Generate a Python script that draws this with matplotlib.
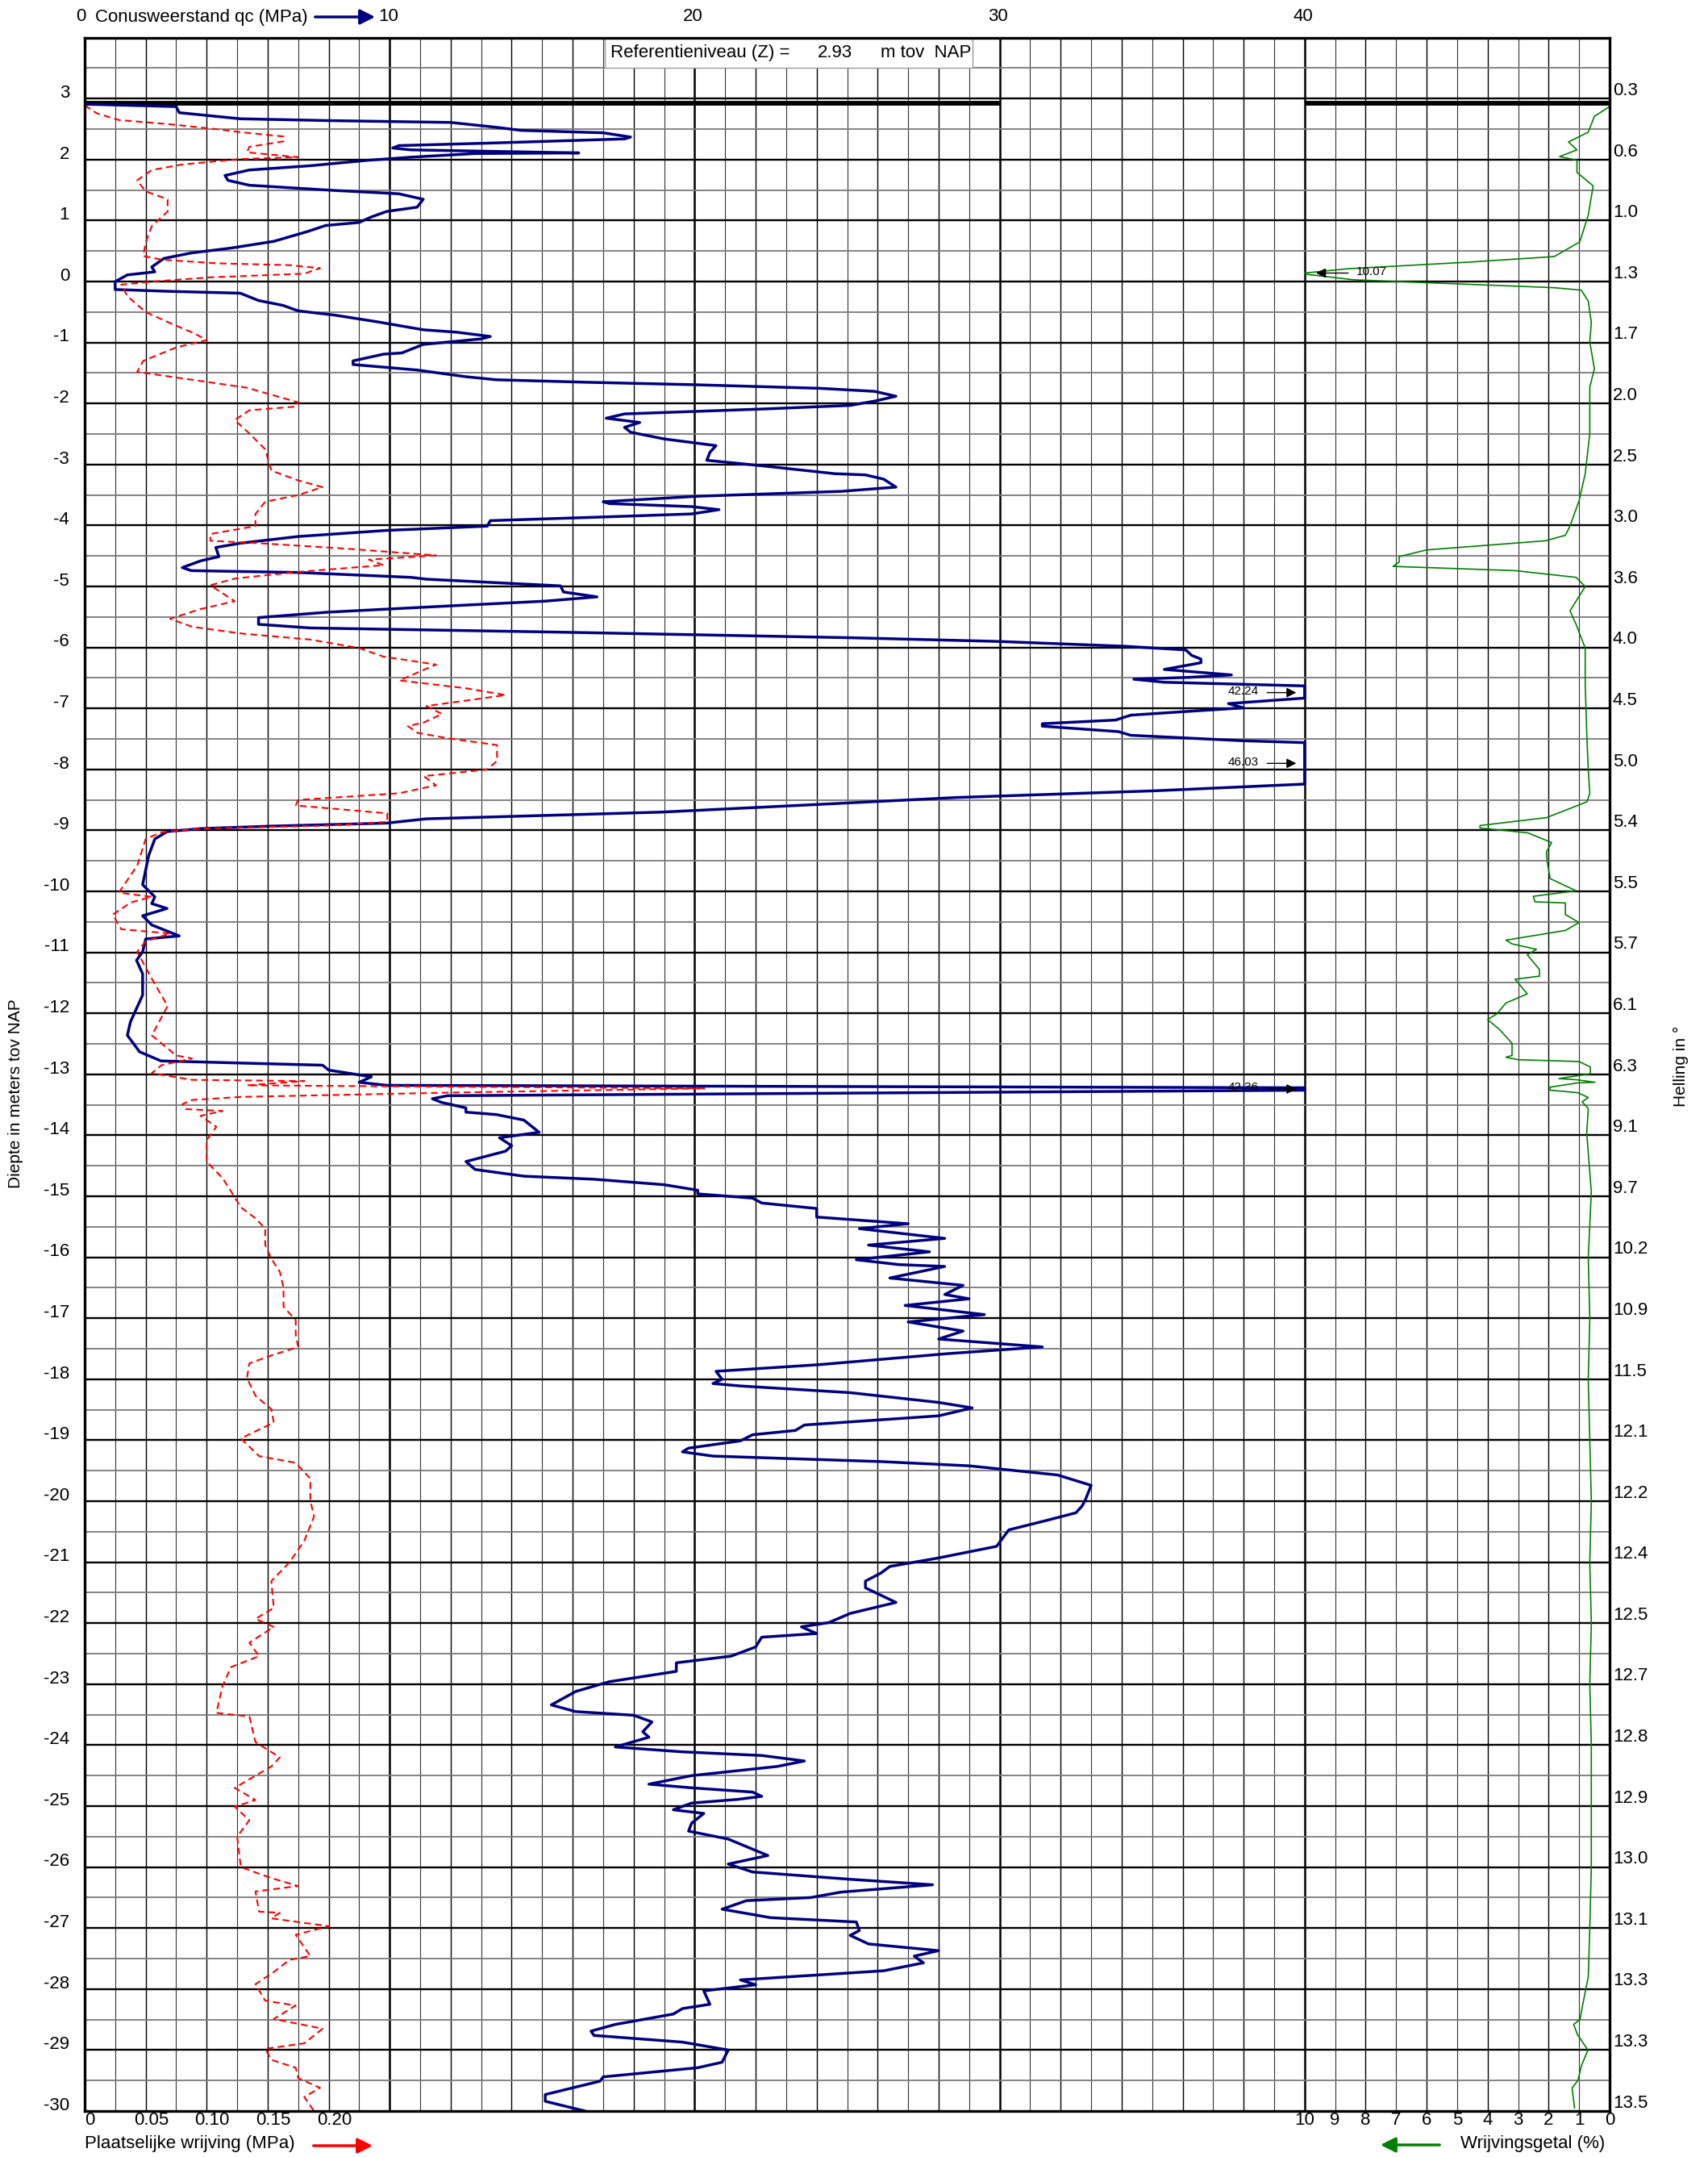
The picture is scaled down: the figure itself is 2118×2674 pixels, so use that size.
import numpy as np
import matplotlib
matplotlib.use('Agg')
import matplotlib.pyplot as plt
from matplotlib.patches import Rectangle

# Sondeergrafiek: conusweerstand, plaatselijke wrijving en wrijvingsgetal
plt.rcParams['font.family'] = ['Liberation Sans', 'DejaVu Sans']

# --- data ---
# conusweerstand qc (MPa), values above 40 are drawn at 40 with a label
QC_DEPTH = [2.91, 2.87, 2.77, 2.67, 2.64, 2.61, 2.53, 2.48, 2.44, 2.37, 2.34, 2.27, 2.23, 2.19, 2.16,
            2.11, 2.10, 2.04, 1.99, 1.90, 1.83, 1.74, 1.66, 1.58, 1.50, 1.44, 1.35, 1.22, 1.15, 1.06,
            0.97, 0.92, 0.82, 0.66, 0.55, 0.47, 0.38, 0.24, 0.16, 0.11, 0.00, -0.13, -0.16, -0.19,
            -0.31, -0.39, -0.48, -0.55, -0.66, -0.79, -0.83, -0.90, -0.94, -1.03, -1.17, -1.19, -1.30,
            -1.36, -1.45, -1.56, -1.61, -1.65, -1.69, -1.75, -1.80, -1.88, -1.96, -2.03, -2.09, -2.17,
            -2.24, -2.31, -2.39, -2.47, -2.58, -2.69, -2.80, -2.93, -3.02, -3.15, -3.17, -3.24, -3.37,
            -3.44, -3.52, -3.61, -3.64, -3.69, -3.74, -3.81, -3.86, -3.92, -4.01, -4.08, -4.18, -4.29,
            -4.36, -4.51, -4.58, -4.69, -4.74, -4.77, -4.85, -4.88, -4.99, -5.09, -5.17, -5.24, -5.32,
            -5.42, -5.51, -5.62, -5.68, -5.75, -5.84, -5.90, -5.98, -6.04, -6.13, -6.19, -6.25, -6.36,
            -6.45, -6.49, -6.52, -6.57, -6.63, -6.83, -6.92, -6.99, -7.05, -7.11, -7.19, -7.25, -7.29,
            -7.38, -7.44, -7.53, -7.56, -8.24, -8.35, -8.46, -8.58, -8.70, -8.81, -8.88, -8.93, -8.97,
            -9.02, -9.14, -9.41, -9.89, -10.09, -10.20, -10.28, -10.40, -10.55, -10.73, -10.78, -10.99,
            -11.13, -11.35, -11.70, -12.14, -12.36, -12.63, -12.78, -12.85, -12.93, -13.04, -13.13,
            -13.18, -13.22, -13.26, -13.35, -13.40, -13.46, -13.55, -13.62, -13.66, -13.75, -13.95,
            -14.04, -14.17, -14.26, -14.43, -14.56, -14.67, -14.72, -14.81, -14.90, -14.96, -15.03,
            -15.11, -15.20, -15.34, -15.45, -15.53, -15.69, -15.80, -15.91, -16.04, -16.12, -16.15,
            -16.34, -16.46, -16.61, -16.68, -16.79, -16.94, -17.06, -17.21, -17.34, -17.47, -17.58,
            -17.76, -17.87, -18.00, -18.07, -18.11, -18.22, -18.38, -18.47, -18.60, -18.75, -18.84,
            -18.91, -19.01, -19.13, -19.19, -19.26, -19.35, -19.42, -19.57, -19.74, -19.99, -20.08,
            -20.19, -20.32, -20.47, -20.74, -20.93, -21.07, -21.18, -21.31, -21.42, -21.66, -21.84,
            -21.99, -22.06, -22.17, -22.23, -22.39, -22.54, -22.65, -22.79, -22.96, -23.12, -23.34,
            -23.45, -23.51, -23.62, -23.78, -23.87, -24.03, -24.11, -24.17, -24.26, -24.35, -24.50,
            -24.64, -24.70, -24.77, -24.84, -24.89, -24.95, -25.06, -25.12, -25.28, -25.41, -25.54,
            -25.81, -25.95, -26.08, -26.20, -26.29, -26.41, -26.50, -26.55, -26.69, -26.83, -26.90,
            -27.04, -27.12, -27.26, -27.37, -27.46, -27.57, -27.70, -27.85, -27.93, -28.03, -28.25,
            -28.32, -28.41, -28.58, -28.69, -28.76, -28.87, -29.00, -29.20, -29.29, -29.44, -29.51,
            -29.73, -29.84, -30.00]
QC_MPA = [0.0, 3.0, 3.1, 5.1, 8.0, 12.0, 13.5, 14.3, 17.0, 17.9, 17.7, 13.2, 10.3, 10.1, 10.7,
          16.2, 12.8, 10.7, 9.3, 7.4, 5.4, 4.6, 4.7, 5.4, 8.0, 10.3, 11.1, 10.9, 9.9, 9.4,
          9.0, 7.9, 7.3, 6.2, 4.8, 3.5, 2.6, 2.2, 2.3, 1.4, 1.0, 1.0, 2.8, 5.1,
          5.7, 6.5, 7.0, 8.2, 9.6, 11.1, 12.2, 13.3, 13.0, 11.1, 10.4, 9.8, 8.8,
          8.8, 10.9, 12.5, 13.5, 16.4, 19.9, 24.1, 25.9, 26.6, 25.9, 25.1, 22.2, 17.7,
          17.1, 18.2, 17.7, 17.9, 19.0, 20.7, 20.5, 20.4, 22.2, 24.6, 25.6, 26.2, 26.6,
          24.8, 20.1, 17.0, 17.2, 19.9, 20.8, 19.9, 17.0, 13.3, 13.2, 9.9, 7.0, 5.1,
          4.3, 4.4, 3.8, 3.2, 3.5, 7.0, 10.7, 11.2, 15.6, 15.7, 16.8, 15.1, 11.9,
          8.0, 5.7, 5.7, 7.4, 15.7, 25.1, 29.9, 34.1, 36.1, 36.3, 36.6, 36.6, 35.4,
          37.6, 36.2, 34.4, 35.4, 40.0, 40.0, 37.5, 38.0, 36.1, 34.3, 33.8, 31.4, 31.4,
          33.9, 34.3, 38.0, 40.0, 40.0, 35.1, 28.6, 23.8, 18.9, 11.2, 9.9, 6.1, 3.8,
          2.7, 2.3, 2.1, 1.9, 2.3, 2.2, 2.7, 1.9, 2.2, 3.1, 2.0, 1.9,
          1.7, 1.9, 1.9, 1.5, 1.4, 1.8, 2.5, 7.8, 8.0, 9.4, 9.0,
          9.9, 40.0, 40.0, 11.9, 11.4, 11.7, 12.5, 12.5, 13.5, 14.4, 14.9,
          13.6, 14.0, 13.8, 12.5, 12.8, 14.4, 16.7, 19.0, 20.1, 20.1, 21.9,
          22.2, 24.0, 24.0, 27.0, 25.4, 28.2, 25.7, 27.7, 25.3, 26.7, 28.2,
          26.4, 28.8, 28.2, 29.0, 26.9, 29.5, 27.0, 28.8, 28.0, 31.4, 28.3,
          24.1, 20.7, 20.9, 20.6, 21.5, 25.1, 28.0, 29.1, 28.0, 23.6, 23.3,
          21.9, 21.5, 19.8, 19.6, 20.6, 26.1, 29.0, 31.9, 33.0, 32.8, 32.7,
          32.5, 31.5, 30.3, 29.9, 28.0, 26.4, 26.1, 25.6, 25.6, 26.6, 25.1,
          24.4, 23.5, 24.0, 22.2, 22.0, 21.2, 19.4, 19.4, 17.2, 16.1, 15.3,
          16.1, 18.0, 18.6, 18.3, 18.5, 17.4, 19.6, 22.2, 23.6, 22.7, 19.9,
          18.5, 19.9, 21.9, 22.2, 21.4, 19.9, 19.3, 20.3, 19.9, 19.8, 21.1,
          22.4, 21.1, 21.9, 25.1, 27.8, 24.8, 23.8, 21.7, 20.9, 22.5, 25.3,
          25.4, 25.1, 25.7, 28.0, 27.2, 27.5, 26.2, 21.5, 22.0, 20.3, 20.5,
          19.6, 19.3, 17.4, 16.6, 16.7, 19.6, 21.1, 20.9, 20.1, 17.0, 16.9,
          15.1, 15.1, 16.4]
QC_OVER = ["42.24", "46.03", "42.36"]
QC_OVER_DEPTH = [-6.74, -7.90, -13.24]

# plaatselijke wrijving fs (MPa)
FS_DEPTH = [2.89, 2.76, 2.65, 2.58, 2.50, 2.45, 2.38, 2.30, 2.21, 2.12, 2.04, 2.01, 1.92, 1.83, 1.66,
            1.48, 1.35, 1.15, 0.91, 0.64, 0.42, 0.36, 0.30, 0.27, 0.22, 0.13, 0.07, 0.00, -0.05,
            -0.24, -0.50, -0.68, -0.85, -0.96, -1.08, -1.30, -1.48, -1.61, -1.74, -1.98, -2.05,
            -2.11, -2.27, -2.49, -2.75, -3.10, -3.26, -3.37, -3.50, -3.61, -3.81, -4.01, -4.14,
            -4.25, -4.29, -4.38, -4.49, -4.56, -4.65, -4.76, -4.87, -4.98, -5.24, -5.37, -5.53,
            -5.66, -5.77, -5.87, -6.01, -6.15, -6.28, -6.41, -6.54, -6.67, -6.78, -6.87, -6.96,
            -7.09, -7.23, -7.29, -7.40, -7.49, -7.60, -7.86, -8.00, -8.11, -8.26, -8.39, -8.50,
            -8.59, -8.72, -8.86, -8.92, -8.97, -9.03, -9.14, -9.58, -10.02, -10.09, -10.18, -10.38,
            -10.62, -10.69, -10.82, -10.99, -11.43, -11.88, -12.36, -12.69, -12.74, -12.85, -12.98,
            -13.09, -13.11, -13.18, -13.23, -13.30, -13.37, -13.42, -13.49, -13.57, -13.60, -13.68,
            -13.86, -14.08, -14.43, -14.70, -14.92, -15.18, -15.36, -15.53, -15.80, -16.02, -16.24,
            -16.50, -16.81, -17.03, -17.27, -17.47, -17.61, -17.74, -17.98, -18.27, -18.49, -18.71,
            -18.97, -19.26, -19.37, -19.63, -19.99, -20.25, -20.65, -21.00, -21.31, -21.75, -21.93,
            -22.06, -22.32, -22.54, -22.72, -23.03, -23.47, -23.53, -23.95, -24.20, -24.35, -24.70,
            -24.90, -25.01, -25.23, -25.50, -26.00, -26.18, -26.31, -26.40, -26.73, -26.75, -26.84,
            -26.97, -27.11, -27.46, -27.52, -27.72, -27.92, -28.19, -28.27, -28.49, -28.65, -28.89,
            -28.98, -29.16, -29.29, -29.46, -29.62, -29.77, -30.00]
FS_MPA = [0.000, 0.010, 0.028, 0.070, 0.108, 0.128, 0.163, 0.163, 0.135, 0.133, 0.175, 0.128, 0.080,
          0.055, 0.043, 0.050, 0.068, 0.068, 0.055, 0.050, 0.048, 0.063, 0.108, 0.168, 0.193, 0.180,
          0.103, 0.055, 0.030, 0.035, 0.050, 0.070, 0.090, 0.100, 0.075, 0.048, 0.043, 0.088, 0.133,
          0.175, 0.173, 0.135, 0.123, 0.135, 0.148, 0.153, 0.175, 0.195, 0.175, 0.148, 0.140, 0.140,
          0.103, 0.103, 0.143, 0.215, 0.288, 0.233, 0.245, 0.175, 0.123, 0.103, 0.123, 0.095, 0.070,
          0.088, 0.128, 0.185, 0.225, 0.245, 0.288, 0.273, 0.258, 0.313, 0.345, 0.313, 0.280, 0.293,
          0.278, 0.265, 0.273, 0.298, 0.338, 0.338, 0.330, 0.278, 0.288, 0.258, 0.175, 0.173, 0.248,
          0.248, 0.200, 0.095, 0.063, 0.050, 0.043, 0.028, 0.055, 0.038, 0.023, 0.030, 0.070, 0.050,
          0.043, 0.055, 0.068, 0.055, 0.075, 0.088, 0.063, 0.055, 0.088, 0.180, 0.133, 0.508, 0.298,
          0.128, 0.088, 0.080, 0.083, 0.113, 0.095, 0.108, 0.100, 0.100, 0.113, 0.120, 0.128, 0.140,
          0.148, 0.148, 0.153, 0.160, 0.163, 0.163, 0.173, 0.173, 0.175, 0.153, 0.135, 0.133, 0.140,
          0.153, 0.155, 0.128, 0.143, 0.173, 0.185, 0.185, 0.188, 0.180, 0.168, 0.153, 0.155, 0.140,
          0.155, 0.135, 0.143, 0.120, 0.113, 0.108, 0.135, 0.140, 0.160, 0.153, 0.123, 0.140, 0.123,
          0.135, 0.125, 0.128, 0.153, 0.175, 0.140, 0.143, 0.160, 0.153, 0.200, 0.173, 0.185, 0.168,
          0.155, 0.140, 0.148, 0.173, 0.155, 0.195, 0.180, 0.148, 0.153, 0.173, 0.175, 0.193, 0.180,
          0.188]
FS_SCALE = 40.0  # 0.05 MPa per 2 qc-units

# wrijvingsgetal Rf (%), drawn from the right edge (0) to the left (10)
RF_DEPTH = [2.87, 2.71, 2.45, 2.29, 2.16, 2.05, 1.99, 1.79, 1.57, 1.09, 0.65, 0.41, 0.32, 0.21, 0.14,
            0.12, 0.03, -0.10, -0.14, -0.32, -0.67, -0.99, -1.43, -1.73, -2.49, -3.15, -3.59, -4.01,
            -4.16, -4.25, -4.40, -4.51, -4.60, -4.67, -4.74, -4.85, -5.00, -5.40, -5.62, -6.01,
            -6.60, -7.41, -8.00, -8.39, -8.53, -8.66, -8.79, -8.92, -8.96, -9.04, -9.20, -9.35,
            -9.50, -9.79, -9.99, -10.08, -10.17, -10.19, -10.38, -10.51, -10.64, -10.80, -10.86,
            -10.95, -11.04, -11.28, -11.39, -11.44, -11.68, -11.83, -12.01, -12.10, -12.27, -12.49,
            -12.69, -12.72, -12.76, -12.79, -12.88, -12.99, -13.07, -13.09, -13.13, -13.14, -13.21,
            -13.26, -13.30, -13.38, -13.45, -13.56, -13.96, -14.93, -16.00, -17.00, -18.00, -19.00,
            -20.00, -21.00, -22.00, -23.00, -24.00, -25.00, -26.00, -27.00, -27.80, -28.30, -28.50,
            -28.58, -28.75, -29.00, -29.25, -29.50, -29.62, -29.95]
RF_PCT = [0.0, 0.5, 0.7, 1.35, 1.07, 1.64, 1.07, 1.07, 0.54, 0.7, 0.98, 1.82, 4.6, 8.6, 10.0,
          9.95, 8.4, 1.82, 0.93, 0.7, 0.6, 0.65, 0.5, 0.65, 0.65, 0.8, 1.0, 1.3,
          1.45, 2.1, 6.0, 6.9, 6.9, 7.1, 3.1, 1.1, 0.8, 1.3, 1.1, 0.8,
          0.8, 0.75, 0.7, 0.65, 0.74, 1.4, 2.07, 4.25, 4.25, 2.68, 1.9, 2.07,
          2.05, 1.95, 1.1, 2.5, 2.45, 1.45, 1.45, 1.0, 1.45, 3.4, 3.2,
          2.4, 2.7, 2.3, 2.3, 3.1, 2.7, 3.4, 3.7, 4.0, 3.6, 3.2,
          3.2, 3.4, 3.0, 1.0, 0.63, 0.63, 1.66, 1.05, 0.48, 1.05, 1.95,
          1.95, 1.05, 0.7, 0.9, 0.7, 0.75, 0.6, 0.7, 0.65, 0.7, 0.65,
          0.6, 0.65, 0.6, 0.65, 0.6, 0.6, 0.6, 0.65, 0.7, 0.9, 0.97,
          1.18, 1.05, 0.71, 0.92, 1.04, 1.23, 1.15]
RF_OVER = ["10.07"]
RF_OVER_DEPTH = [0.14]

# axis labels
DEPTH_TICKS = list(range(3, -31, -1))
HELLING = ["0.3", "0.6", "1.0", "1.3", "1.7", "2.0", "2.5", "3.0", "3.6", "4.0", "4.5", "5.0",
           "5.4", "5.5", "5.7", "6.1", "6.3", "9.1", "9.7", "10.2", "10.9", "11.5", "12.1", "12.2",
           "12.4", "12.5", "12.7", "12.8", "12.9", "13.0", "13.1", "13.3", "13.3", "13.5"]
QC_TICKS = [10, 20, 30, 40]
FS_TICKS = ["0", "0.05", "0.10", "0.15", "0.20"]
RF_TICKS = list(range(10, -1, -1))
REF_LEVEL = 2.93

W, H = 2118, 2674


def fx(px):
    return px / W


def fy(py):
    return 1 - py / H


fig = plt.figure(figsize=(W / 100, H / 100), dpi=100)
fig.patch.set_facecolor('white')
ax = fig.add_axes([fx(105), fy(2617), (1996 - 105) / W, (2617 - 46.7) / H])
ax.set_xlim(0, 50)
ax.set_ylim(-30, 4)
ax.set_xticks([])
ax.set_yticks([])
for sp in ax.spines.values():
    sp.set_linewidth(2.4)
    sp.set_zorder(10)

# grid: 1 MPa columns, 0.5 m rows
for x in range(1, 50):
    if x % 10 == 0:
        ax.axvline(x, color='black', lw=1.8, zorder=1)
    elif x % 2 == 0:
        ax.axvline(x, color='black', lw=1.0, zorder=1)
    else:
        ax.axvline(x, color='#333333', lw=0.8, zorder=1)
for d in np.arange(-29.5, 4.0, 0.5):
    if float(d).is_integer():
        ax.axhline(d, color='black', lw=1.7, zorder=1)
    else:
        ax.axhline(d, color='#7a7a7a', lw=1.3, zorder=1)

# reference level line (not drawn between 30 and 40)
ax.plot([0, 30], [REF_LEVEL, REF_LEVEL], color='black', lw=4.2, solid_capstyle='butt', zorder=2)
ax.plot([40, 50], [REF_LEVEL, REF_LEVEL], color='black', lw=4.2, solid_capstyle='butt', zorder=2)

# reference box
ax.add_patch(Rectangle((17.05, 3.5), 12.05, 0.5, facecolor='white', edgecolor='#9a9a9a',
                       lw=1.0, zorder=3))
ax.text(17.25, 3.75, "Referentieniveau (Z) =", fontsize=16, va='center', ha='left', zorder=4)
ax.text(24.6, 3.75, f"{REF_LEVEL:.2f}", fontsize=16, va='center', ha='center', zorder=4)
ax.text(26.1, 3.75, "m tov  NAP", fontsize=16, va='center', ha='left', zorder=4)

# curves
ax.plot(np.minimum(QC_MPA, 40), QC_DEPTH, color='#000080', lw=2.5, zorder=5,
        solid_joinstyle='round')
ax.plot(np.array(FS_MPA) * FS_SCALE, FS_DEPTH, color='#ff0000', lw=1.5,
        linestyle=(0, (4, 2.5)), zorder=6)
ax.plot(50 - np.minimum(RF_PCT, 10), RF_DEPTH, color='#008000', lw=1.2, zorder=5)

# labels for clipped values
for lab, d in zip(QC_OVER, QC_OVER_DEPTH):
    ax.text(38.5, d + 0.02, lab, fontsize=11, ha='right', va='center', zorder=7)
    ax.annotate('', xy=(39.8, d), xytext=(38.7, d),
                arrowprops=dict(arrowstyle='-|>', color='black', lw=1.0, mutation_scale=18),
                zorder=7)
for lab, d in zip(RF_OVER, RF_OVER_DEPTH):
    ax.text(41.7, d + 0.02, lab, fontsize=11, ha='left', va='center', zorder=7)
    ax.annotate('', xy=(40.3, d), xytext=(41.5, d),
                arrowprops=dict(arrowstyle='-|>', color='black', lw=1.0, mutation_scale=18),
                zorder=7)

# depth labels left, helling right
for d, h in zip(DEPTH_TICKS, HELLING):
    ax.text(-0.5, d + 0.09, str(d), fontsize=16, ha='right', va='center', clip_on=False)
    ax.text(50.1, d + 0.13, h, fontsize=16, ha='left', va='center', clip_on=False)

# top scale
top_y = 1 + (46.7 - 21) / 2570.3
xt = ax.get_xaxis_transform()
for q in QC_TICKS:
    ax.text(q - 0.05, top_y, str(q), fontsize=16, ha='center', va='center', transform=xt)
fig.text(fx(100), fy(21), "0", fontsize=16, ha='center', va='center')
fig.text(fx(118), fy(21), "Conusweerstand qc (MPa)", fontsize=16, ha='left', va='center')
fig.add_artist(matplotlib.patches.FancyArrowPatch(
    (fx(388), fy(21)), (fx(468), fy(21)), transform=fig.transFigure,
    arrowstyle='-|>', mutation_scale=28, color='#000080', lw=2.5))

# bottom scales
bot_y = -(2629 - 2617) / 2570.3
for i, lab in enumerate(FS_TICKS):
    ax.text(2 * i + 0.18, bot_y, lab, fontsize=16, ha='center', va='center', transform=xt)
for r in RF_TICKS:
    ax.text(50 - r, bot_y, str(r), fontsize=16, ha='center', va='center', transform=xt)

fig.text(fx(105), fy(2657), "Plaatselijke wrijving (MPa)", fontsize=16, ha='left', va='center')
fig.add_artist(matplotlib.patches.FancyArrowPatch(
    (fx(386), fy(2660)), (fx(465), fy(2660)), transform=fig.transFigure,
    arrowstyle='-|>', mutation_scale=28, color='#ff0000', lw=2.5))
fig.text(fx(1990), fy(2658), "Wrijvingsgetal (%)", fontsize=16, ha='right', va='center')
fig.add_artist(matplotlib.patches.FancyArrowPatch(
    (fx(1788), fy(2659)), (fx(1709), fy(2659)), transform=fig.transFigure,
    arrowstyle='-|>', mutation_scale=28, color='#008000', lw=2.5))

fig.text(fx(20), fy(1356), "Diepte in meters tov NAP", fontsize=15, rotation=90,
         ha='center', va='center')
fig.text(fx(2084), fy(1322), "Helling in °", fontsize=15, rotation=90,
         ha='center', va='center')

fig.savefig('out.png', dpi=100, facecolor='white')
